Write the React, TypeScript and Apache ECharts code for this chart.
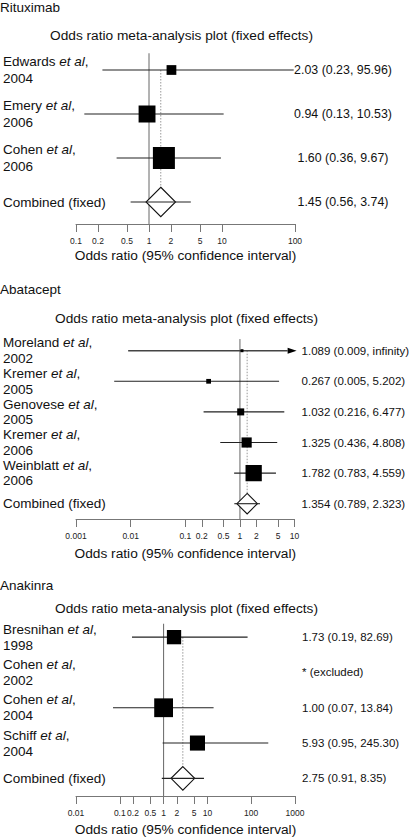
import React, { useEffect, useRef } from "react";
import * as echarts from "echarts";

// ---------- Data ----------
const rtxAuthors = ["Edwards", "Emery", "Cohen"];
const rtxYears = ["2004", "2006", "2006"];
const rtxEst = [2.03, 0.94, 1.6];
const rtxLo = [0.23, 0.13, 0.36];
const rtxHi = [95.96, 10.53, 9.67];
const rtxWeights = [11, 33, 56];
const rtxCombined = [1.45, 0.56, 3.74];
const rtxTicks = ["0.1", "0.2", "0.5", "1", "2", "5", "10", "100"];

const abaAuthors = ["Moreland", "Kremer", "Genovese", "Kremer", "Weinblatt"];
const abaYears = ["2002", "2005", "2005", "2006", "2006"];
const abaEst = [1.089, 0.267, 1.032, 1.325, 1.782];
const abaLo = [0.009, 0.005, 0.216, 0.436, 0.783];
const abaHi: (number | null)[] = [null, 5.202, 6.477, 4.808, 4.559]; // null = infinity
const abaWeights = [2, 5, 11, 23, 59];
const abaCombined = [1.354, 0.789, 2.323];
const abaTicks = ["0.001", "0.01", "0.1", "0.2", "0.5", "1", "2", "5", "10"];

const anaAuthors = ["Bresnihan", "Cohen", "Cohen", "Schiff"];
const anaYears = ["1998", "2002", "2004", "2004"];
const anaEst: (number | null)[] = [1.73, null, 1.0, 5.93]; // null = excluded
const anaLo: (number | null)[] = [0.19, null, 0.07, 0.95];
const anaHi: (number | null)[] = [82.69, null, 13.84, 245.3];
const anaWeights: (number | null)[] = [26, null, 45, 29];
const anaCombined = [2.75, 0.91, 8.35];
const anaTicks = ["0.01", "0.1", "0.2", "0.5", "1", "2", "5", "10", "100", "1000"];

const drugNames = ["Rituximab", "Abatacept", "Anakinra"];
const plotTitle = "Odds ratio meta-analysis plot (fixed effects)";
const axisTitle = "Odds ratio (95% confidence interval)";
const combinedLabel = "Combined (fixed)";

// ---------- Styling / layout ----------
const FONT = "'Liberation Sans', Arial, Helvetica, sans-serif";
const GRID_LEFT = 73;
const GRID_W = 222;

const panels = [
  {
    name: drugNames[0], authors: rtxAuthors, years: rtxYears, est: rtxEst, lo: rtxLo, hi: rtxHi,
    w: rtxWeights, comb: rtxCombined, ticks: rtxTicks, dec: 2,
    top: 48, height: 176, nameY: 7, titleY: 35, titleX: 181.5, lineH: 17, boxK: 2.94,
    resAlign: "center", resMargin: 48, resFont: 12.4, nameGap: 24,
  },
  {
    name: drugNames[1], authors: abaAuthors, years: abaYears, est: abaEst, lo: abaLo, hi: abaHi,
    w: abaWeights, comb: abaCombined, ticks: abaTicks, dec: 3,
    top: 335.4, height: 183.6, nameY: 289, titleY: 318, titleX: 186.5, lineH: 15.5, boxK: 2.12,
    resAlign: "left", resMargin: 7, resFont: 11.5, nameGap: 27,
  },
  {
    name: drugNames[2], authors: anaAuthors, years: anaYears, est: anaEst, lo: anaLo, hi: anaHi,
    w: anaWeights, comb: anaCombined, ticks: anaTicks, dec: 2,
    top: 619.5, height: 177.5, nameY: 585, titleY: 608, titleX: 186.5, lineH: 16, boxK: 2.8,
    resAlign: "left", resMargin: 7, resFont: 11.5, nameGap: 26,
  },
];

function fmtResult(est: number | null, lo: number | null, hi: number | null, dec: number) {
  if (est == null) return "* (excluded)";
  const h = hi == null ? "infinity" : hi.toFixed(dec);
  return `${est.toFixed(dec)} (${(lo as number).toFixed(dec)}, ${h})`;
}

function buildOption() {
  const grid: any[] = [];
  const xAxis: any[] = [];
  const yAxis: any[] = [];
  const series: any[] = [];
  const graphic: any[] = [];

  panels.forEach((p, gi) => {
    grid.push({ left: GRID_LEFT, width: GRID_W, top: p.top, height: p.height });
    const tickVals = p.ticks.map((t) => parseFloat(t));
    const tickFmt = (v: number) => {
      for (let i = 0; i < tickVals.length; i++) {
        if (Math.abs(Math.log10(tickVals[i]) - Math.log10(v)) < 0.01) return p.ticks[i];
      }
      return "";
    };
    xAxis.push({
      type: "log",
      logBase: 10,
      gridIndex: gi,
      min: tickVals[0],
      max: tickVals[tickVals.length - 1],
      axisLine: { show: true, lineStyle: { color: "#777", width: 1 } },
      axisTick: { show: true, length: 8, customValues: tickVals, lineStyle: { color: "#777" } },
      axisLabel: {
        customValues: tickVals,
        formatter: tickFmt,
        fontSize: 8.5,
        margin: 12,
        color: "#222",
        fontFamily: FONT,
      },
      minorTick: { show: false },
      splitLine: { show: false },
      name: axisTitle,
      nameLocation: "middle",
      nameGap: p.nameGap,
      nameTextStyle: { fontSize: 13.7, color: "#111", fontFamily: FONT },
    });

    const leftLabels = p.authors
      .map((a, i) => `${a} {i|et al},\n${p.years[i]}`)
      .concat([combinedLabel]);
    const rightLabels = p.est
      .map((e, i) => fmtResult(e as any, p.lo[i] as any, p.hi[i] as any, p.dec))
      .concat([fmtResult(p.comb[0], p.comb[1], p.comb[2], p.dec)]);

    yAxis.push({
      type: "category",
      gridIndex: gi,
      inverse: true,
      data: leftLabels,
      axisLine: { show: false },
      axisTick: { show: false },
      splitLine: { show: false },
      axisLabel: {
        align: "left",
        margin: GRID_LEFT,
        fontSize: 13.5,
        lineHeight: p.lineH,
        color: "#111",
        fontFamily: FONT,
        interval: 0,
        rich: {
          i: { fontStyle: "italic", fontSize: 13.5, lineHeight: p.lineH, color: "#111", fontFamily: FONT },
        },
      },
    });
    yAxis.push({
      type: "category",
      gridIndex: gi,
      position: "right",
      inverse: true,
      data: rightLabels,
      axisLine: { show: false },
      axisTick: { show: false },
      splitLine: { show: false },
      axisLabel: {
        align: p.resAlign,
        margin: p.resMargin,
        fontSize: p.resFont,
        color: "#111",
        fontFamily: FONT,
        interval: 0,
      },
    });

    const combRow = p.authors.length;

    // Reference line at OR = 1
    series.push({
      type: "custom",
      xAxisIndex: gi,
      yAxisIndex: gi * 2,
      silent: true,
      z: 1,
      encode: { x: 0, y: 1 },
      data: [[1, 0]],
      renderItem: (params: any, api: any) => {
        const c = api.coord([api.value(0), 0]);
        const band = api.size([0, 1])[1];
        const cs = params.coordSys;
        return {
          type: "line",
          shape: { x1: c[0], y1: c[1] - band * 0.38, x2: c[0], y2: cs.y + cs.height },
          style: { stroke: "#666", lineWidth: 1 },
        };
      },
    });

    // Combined (fixed) estimate: dotted line, CI line, diamond
    series.push({
      type: "custom",
      xAxisIndex: gi,
      yAxisIndex: gi * 2,
      silent: true,
      z: 2,
      encode: { x: 0, y: 1 },
      data: [[p.comb[0], combRow, p.comb[1], p.comb[2]]],
      renderItem: (params: any, api: any) => {
        const row = api.value(1);
        const c = api.coord([api.value(0), row]);
        const l = api.coord([api.value(2), row]);
        const h = api.coord([api.value(3), row]);
        const top0 = api.coord([api.value(0), 0]);
        const band = api.size([0, 1])[1];
        const d = band * 0.335;
        return {
          type: "group",
          children: [
            {
              type: "line",
              shape: { x1: c[0], y1: top0[1], x2: c[0], y2: c[1] - d },
              style: { stroke: "#999", lineWidth: 1, lineDash: [1.5, 1.5] },
            },
            {
              type: "polygon",
              shape: { points: [[c[0], c[1] - d], [c[0] + d, c[1]], [c[0], c[1] + d], [c[0] - d, c[1]]] },
              style: { fill: "#fff", stroke: "#111", lineWidth: 1.1 },
            },
            {
              type: "line",
              shape: { x1: l[0], y1: c[1], x2: h[0], y2: c[1] },
              style: { stroke: "#222", lineWidth: 1.1 },
            },
          ],
        };
      },
    });

    // Individual studies
    const studyData: any[] = [];
    p.est.forEach((e, i) => {
      if (e == null) return;
      studyData.push([e, i, p.lo[i], p.hi[i] == null ? null : p.hi[i], p.w[i]]);
    });
    const k = p.boxK;
    series.push({
      type: "custom",
      xAxisIndex: gi,
      yAxisIndex: gi * 2,
      silent: true,
      z: 3,
      encode: { x: 0, y: 1 },
      data: studyData,
      renderItem: (params: any, api: any) => {
        const row = api.value(1);
        const c = api.coord([api.value(0), row]);
        const l = api.coord([api.value(2), row]);
        const hiV = api.value(3);
        const cs = params.coordSys;
        const infinite = hiV == null || isNaN(hiV);
        const hx = infinite ? cs.x + cs.width - 7 : api.coord([hiV, row])[0];
        const s = k * Math.sqrt(api.value(4));
        const children: any[] = [
          {
            type: "line",
            shape: { x1: l[0], y1: c[1], x2: hx, y2: c[1] },
            style: { stroke: infinite ? "#444" : "#222", lineWidth: infinite ? 1.6 : 1.1 },
          },
          {
            type: "rect",
            shape: { x: c[0] - s / 2, y: c[1] - s / 2, width: s, height: s },
            style: { fill: "#000" },
          },
        ];
        if (infinite) {
          children.push({
            type: "polygon",
            shape: { points: [[hx, c[1] - 3], [hx + 9, c[1]], [hx, c[1] + 3]] },
            style: { fill: "#000" },
          });
        }
        return { type: "group", children };
      },
    });

    graphic.push({
      type: "text",
      x: 0,
      y: p.nameY,
      style: { text: p.name, fontSize: 13.5, fontFamily: FONT, fill: "#111", align: "left", verticalAlign: "middle" },
    });
    graphic.push({
      type: "text",
      x: p.titleX,
      y: p.titleY,
      style: { text: plotTitle, fontSize: 13.7, fontFamily: FONT, fill: "#111", align: "center", verticalAlign: "middle" },
    });
  });

  return {
    animation: false,
    backgroundColor: "#fff",
    textStyle: { fontFamily: FONT },
    grid,
    xAxis,
    yAxis,
    series,
    graphic,
  };
}

export default function App() {
  const ref = useRef<HTMLDivElement>(null);
  useEffect(() => {
    if (!ref.current) return;
    const chart = echarts.init(ref.current, undefined, { renderer: "svg" });
    chart.setOption(buildOption() as any);
    return () => chart.dispose();
  }, []);
  return (
    <div
      ref={ref}
      style={{ position: "absolute", left: 0, top: 0, width: 412, height: 837, background: "#fff" }}
    />
  );
}
